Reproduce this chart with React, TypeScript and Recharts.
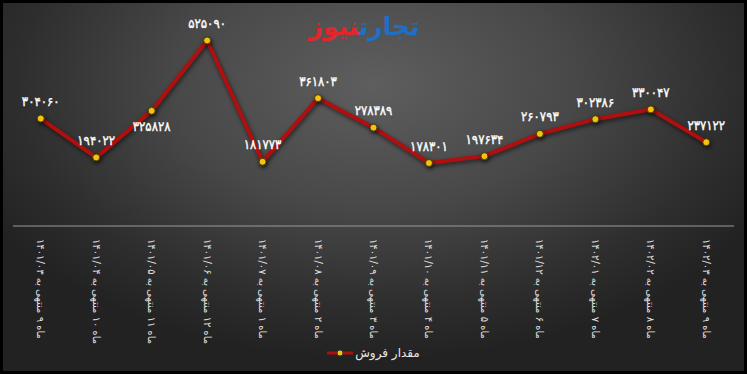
import React from 'react';
import { LineChart, Line, XAxis, YAxis, Legend, LabelList } from 'recharts';

const categories = [
  'ماه ۹ منتهی به ۱۴۰۱/۰۳',
  'ماه ۱۰ منتهی به ۱۴۰۱/۰۴',
  'ماه ۱۱ منتهی به ۱۴۰۱/۰۵',
  'ماه ۱۲ منتهی به ۱۴۰۱/۰۶',
  'ماه ۱ منتهی به ۱۴۰۱/۰۷',
  'ماه ۲ منتهی به ۱۴۰۱/۰۸',
  'ماه ۳ منتهی به ۱۴۰۱/۰۹',
  'ماه ۴ منتهی به ۱۴۰۱/۱۰',
  'ماه ۵ منتهی به ۱۴۰۱/۱۱',
  'ماه ۶ منتهی به ۱۴۰۱/۱۲',
  'ماه ۷ منتهی به ۱۴۰۲/۰۱',
  'ماه ۸ منتهی به ۱۴۰۲/۰۲',
  'ماه ۹ منتهی به ۱۴۰۲/۰۳',
];

const sales = [304060, 194022, 325828, 525090, 181773, 361803, 278389, 178301, 197634, 260793, 302386, 330047, 237122];

const seriesName = 'مقدار فروش';

const data = categories.map((c, i) => ({ name: c, value: sales[i] }));

const toPersian = (n: number) => String(n).replace(/\d/g, (d) => '۰۱۲۳۴۵۶۷۸۹'[Number(d)]);

const FONT = '"DejaVu Sans", sans-serif';

const Tick = (props: any) => {
  const { x, y, payload } = props;
  return (
    <g transform={`translate(${x},${y})`}>
      <text transform="rotate(90)" x={5} y={0} dy="0.35em" textAnchor="start" fill="#e0e0e0" fontSize={10} fontFamily={FONT}>
        {payload.value}
      </text>
    </g>
  );
};

const ValueLabel = (props: any) => {
  const { x, y, value, index } = props;
  const below = index === 2;
  return (
    <text
      x={x}
      y={below ? y + 16 : y - 17}
      dy="0.35em"
      textAnchor="middle"
      fill="#ffffff"
      stroke="#ffffff"
      strokeWidth={0.35}
      fontSize={13}
      fontFamily={'"DejaVu Sans Condensed", "DejaVu Sans", sans-serif'}
    >
      {toPersian(value)}
    </text>
  );
};

const LegendContent = () => (
  <div style={{ display: 'flex', justifyContent: 'center', alignItems: 'center', height: 20 }}>
    <svg width={26} height={10} style={{ marginRight: 2 }}>
      <line x1={0} y1={5} x2={26} y2={5} stroke="#b00f0f" strokeWidth={3} />
      <circle cx={13} cy={5} r={3} fill="#f2c40f" stroke="#333" strokeWidth={1} />
    </svg>
    <span style={{ color: '#e8e8e8', fontSize: 12, fontFamily: FONT, direction: 'rtl' }}>{seriesName}</span>
  </div>
);

export default function App() {
  return (
    <div style={{ position: 'absolute', left: 0, top: 0, width: 747, height: 374, background: '#000' }}>
      <div
        style={{
          position: 'absolute',
          left: 3,
          top: 3,
          width: 741,
          height: 368,
          background: 'radial-gradient(ellipse 60% 75% at 50% 22%, #5e5e5e 0%, #484848 45%, #2e2e2e 80%, #222 100%)',
        }}
      >
        <LineChart width={741} height={368} data={data} margin={{ top: 11, right: 10, bottom: 8, left: 10 }}>
          <XAxis
            dataKey="name"
            scale="band"
            interval={0}
            tickLine={false}
            tick={<Tick />}
            height={117}
            axisLine={{ stroke: '#9a9a9a', strokeWidth: 1 }}
          />
          <YAxis hide domain={[0, 600000]} />
          <Legend verticalAlign="bottom" height={20} content={<LegendContent />} />
          <Line
            type="linear"
            dataKey="value"
            name={seriesName}
            stroke="#b00f0f"
            strokeWidth={4}
            isAnimationActive={false}
            style={{ filter: 'drop-shadow(1px 2px 2px rgba(0,0,0,0.6))' }}
            dot={{ r: 3.5, fill: '#f2c40f', stroke: '#4a3c00', strokeWidth: 1, fillOpacity: 1 }}
            activeDot={false}
          >
            <LabelList dataKey="value" content={<ValueLabel />} />
          </Line>
        </LineChart>
        <div
          style={{
            position: 'absolute',
            left: 300,
            top: 9,
            width: 122,
            textAlign: 'center',
            direction: 'rtl',
            fontFamily: FONT,
            fontWeight: 'bold',
            fontSize: 25,
            lineHeight: '30px',
            whiteSpace: 'nowrap',
          }}
        >
          <span style={{ color: '#1f6fc4' }}>تجارت</span>
          <span style={{ color: '#e3262b' }}>نیوز</span>
        </div>
      </div>
    </div>
  );
}
